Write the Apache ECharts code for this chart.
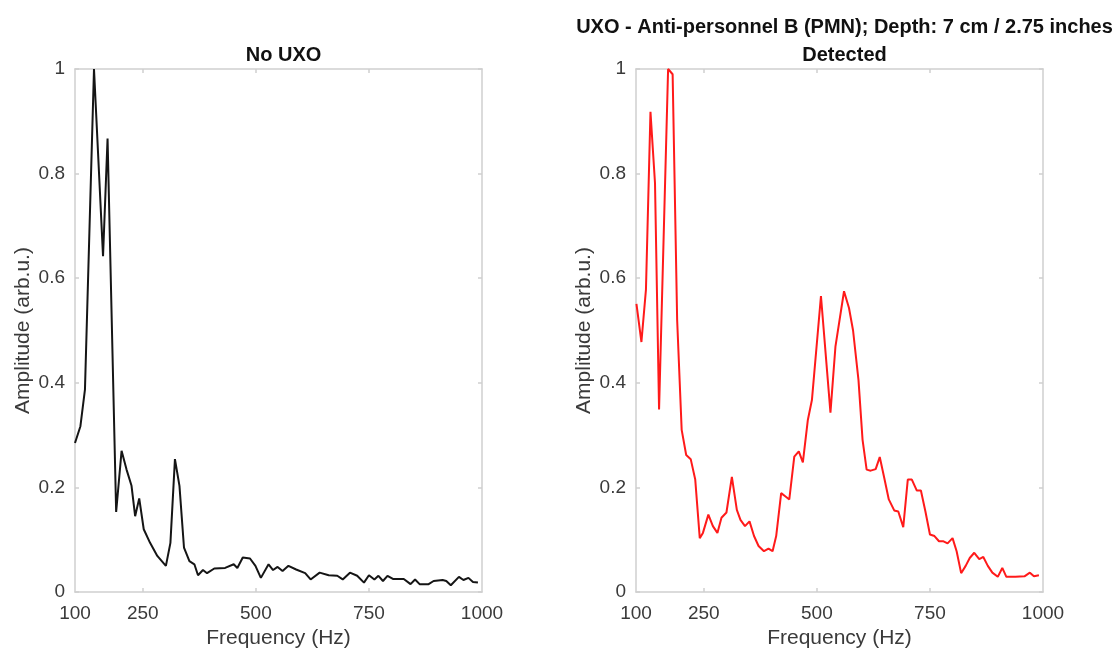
<!DOCTYPE html>
<html>
<head>
<meta charset="utf-8">
<script src="https://cdn.jsdelivr.net/npm/echarts@6/dist/echarts.min.js"></script>
<style>
  html, body { margin: 0; padding: 0; background: #fff; }
  #chart { width: 1117px; height: 649px; }
</style>
</head>
<body>
<div id="chart"></div>
<script>
"use strict"
// No UXO (black)
const noUxoFreq = [100, 112, 122, 142, 162, 172, 191, 203, 214, 225, 233, 242, 252, 266, 282, 301, 311, 321, 331, 341,
    353, 364, 372, 383, 392, 408, 432, 451, 459, 471, 487, 499, 511, 528, 538, 548, 559, 572, 589, 609,
    621, 641, 661, 680, 692, 708, 724, 739, 750, 762, 771, 781, 791, 803, 827, 842, 852, 862, 882, 893,
    913, 921, 931, 949, 959, 970, 980, 991];
const noUxoAmp = [0.285, 0.317, 0.387, 1.0, 0.642, 0.867, 0.153, 0.27, 0.234, 0.203, 0.145, 0.179, 0.12, 0.094, 0.069, 0.05, 0.094, 0.254, 0.203, 0.085,
    0.059, 0.053, 0.032, 0.042, 0.036, 0.045, 0.046, 0.053, 0.046, 0.066, 0.064, 0.05, 0.027, 0.053, 0.042, 0.048, 0.04, 0.05, 0.043, 0.036,
    0.024, 0.037, 0.032, 0.031, 0.024, 0.037, 0.031, 0.018, 0.032, 0.024, 0.031, 0.021, 0.031, 0.025, 0.025, 0.015, 0.024, 0.015, 0.015, 0.021,
    0.023, 0.021, 0.013, 0.029, 0.023, 0.027, 0.019, 0.018];

// PMN detected (red)
const pmnFreq = [101, 112, 122, 132, 142, 151, 171, 181, 191, 201, 211, 221, 231, 241, 248, 260, 270, 280, 289, 300,
    312, 323, 331, 341, 351, 361, 371, 383, 393, 402, 410, 421, 430, 439, 450, 460, 469, 480, 489, 509,
    530, 541, 560, 571, 580, 592, 601, 610, 619, 630, 639, 649, 659, 671, 680, 691, 701, 710, 721, 730,
    740, 750, 760, 770, 780, 789, 800, 809, 819, 829, 838, 848, 859, 868, 878, 888, 900, 910, 919, 939,
    959, 971, 980, 991];
const pmnAmp = [0.551, 0.478, 0.578, 0.918, 0.782, 0.349, 1.0, 0.99, 0.52, 0.31, 0.262, 0.254, 0.215, 0.103, 0.113, 0.148, 0.126, 0.113, 0.142, 0.152,
    0.22, 0.157, 0.138, 0.126, 0.135, 0.107, 0.088, 0.078, 0.083, 0.078, 0.107, 0.189, 0.183, 0.177, 0.259, 0.269, 0.248, 0.329, 0.367, 0.566,
    0.343, 0.469, 0.575, 0.543, 0.5, 0.405, 0.291, 0.234, 0.232, 0.235, 0.258, 0.218, 0.177, 0.156, 0.154, 0.124, 0.215, 0.215, 0.194, 0.194,
    0.154, 0.11, 0.107, 0.097, 0.097, 0.093, 0.103, 0.078, 0.036, 0.05, 0.065, 0.075, 0.063, 0.067, 0.05, 0.037, 0.029, 0.046, 0.029, 0.029,
    0.03, 0.037, 0.03, 0.032];

const xLabels = [100, 250, 500, 750, 1000];
const xTicks = [250, 500, 750];

const font = 'Liberation Sans, Arial, Helvetica, sans-serif';
const boxColor = '#cfcfcf';
const textColor = '#3a3a3a';

function zip(xs, ys) {
    return xs.map(function (x, i) { return [x, ys[i]]; });
}

let chart = echarts.init(document.getElementById("chart"));

let grids = [
    {left: 75, top: 69, width: 407, height: 523, outerBoundsMode: 'none'},
    {left: 636, top: 69, width: 407, height: 523, outerBoundsMode: 'none'}
];

let xAxes = [];
let yAxes = [];
grids.forEach(function (g, i) {
    // bottom axis with labels
    xAxes.push({
        type: 'value', gridIndex: i, min: 100, max: 1000, position: 'bottom',
        name: 'Frequency (Hz)', nameLocation: 'middle', nameGap: 33,
        nameTextStyle: {fontFamily: font, fontSize: 21, color: textColor},
        axisLine: {show: true, onZero: false, lineStyle: {color: boxColor, width: 1.5}},
        axisTick: {show: true, inside: true, length: 4, customValues: xTicks, lineStyle: {color: boxColor, width: 1.5}},
        axisLabel: {customValues: xLabels, margin: 12, fontFamily: font, fontSize: 19, color: textColor,
            formatter: function (v) { return String(v); }},
        splitLine: {show: false}
    });
    // top axis, only box + ticks
    xAxes.push({
        type: 'value', gridIndex: i, min: 100, max: 1000, position: 'top',
        axisLine: {show: true, onZero: false, lineStyle: {color: boxColor, width: 1.5}},
        axisTick: {show: true, inside: true, length: 4, customValues: xTicks, lineStyle: {color: boxColor, width: 1.5}},
        axisLabel: {show: false},
        splitLine: {show: false}
    });
    yAxes.push({
        type: 'value', gridIndex: i, min: 0, max: 1, interval: 0.2, position: 'left',
        name: 'Amplitude (arb.u.)', nameLocation: 'middle', nameGap: 41,
        nameTextStyle: {fontFamily: font, fontSize: 21, color: textColor},
        axisLine: {show: true, onZero: false, lineStyle: {color: boxColor, width: 1.5}},
        axisTick: {show: true, inside: true, length: 4, lineStyle: {color: boxColor, width: 1.5}},
        axisLabel: {margin: 10, fontFamily: font, fontSize: 19, color: textColor,
            formatter: function (v) { return String(+v.toFixed(1)); }},
        splitLine: {show: false}
    });
    yAxes.push({
        type: 'value', gridIndex: i, min: 0, max: 1, interval: 0.2, position: 'right',
        axisLine: {show: true, onZero: false, lineStyle: {color: boxColor, width: 1.5}},
        axisTick: {show: true, inside: true, length: 4, lineStyle: {color: boxColor, width: 1.5}},
        axisLabel: {show: false},
        splitLine: {show: false}
    });
});

let option = {
    backgroundColor: '#ffffff',
    animation: false,
    title: [
        {text: 'No UXO', left: 278.5, top: 36, textAlign: 'center',
            textStyle: {fontFamily: font, fontSize: 20, fontWeight: 'bold', color: '#111', lineHeight: 28}},
        {text: 'UXO - Anti-personnel B (PMN); Depth: 7 cm / 2.75 inches\nDetected', left: 839.5, top: 8, textAlign: 'center',
            textStyle: {fontFamily: font, fontSize: 20, fontWeight: 'bold', color: '#111', lineHeight: 28}}
    ],
    grid: grids,
    xAxis: xAxes,
    yAxis: yAxes,
    series: [
        {type: 'line', xAxisIndex: 0, yAxisIndex: 0, data: zip(noUxoFreq, noUxoAmp),
            symbol: 'none', lineStyle: {color: '#151515', width: 2}},
        {type: 'line', xAxisIndex: 2, yAxisIndex: 2, data: zip(pmnFreq, pmnAmp),
            symbol: 'none', lineStyle: {color: '#ff1a1a', width: 2}}
    ]
};
chart.setOption(option);
</script>
</body>
</html>
